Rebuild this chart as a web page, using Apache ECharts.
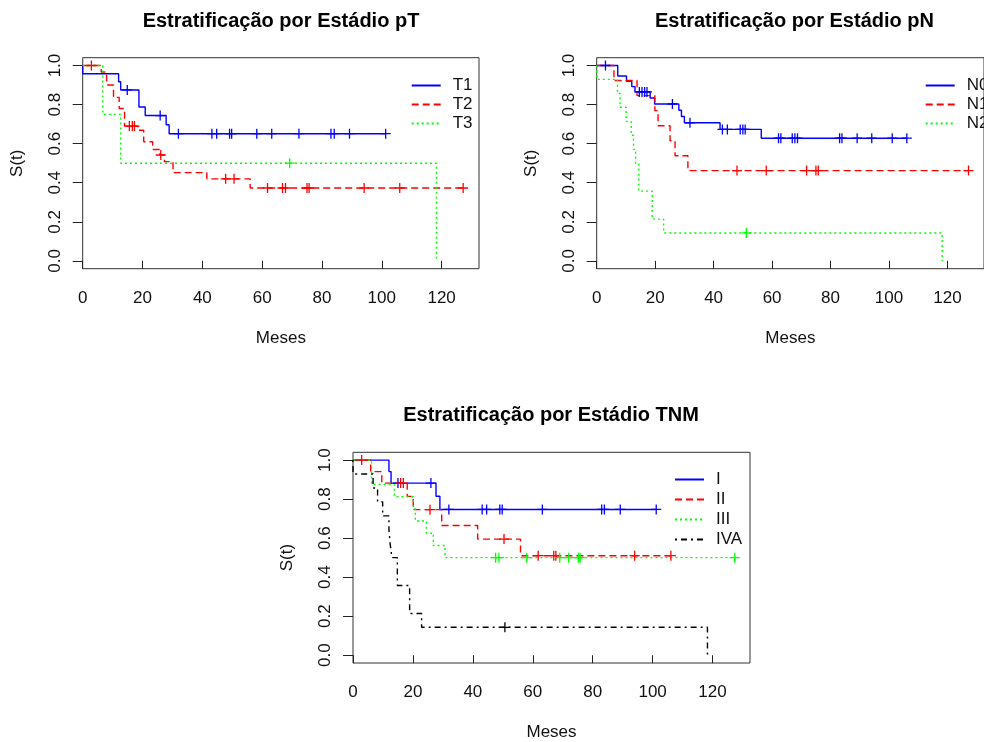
<!DOCTYPE html>
<html><head><meta charset="utf-8">
<script src="https://cdn.jsdelivr.net/npm/echarts@6/dist/echarts.min.js"></script>
<style>html,body{margin:0;padding:0;background:#fff}#c{width:984px;height:742px}</style>
</head><body><div id="c"></div>
<script>
// ---------- tick labels ----------
const xTicks = [0, 20, 40, 60, 80, 100, 120];
const yTicks = [0, 0.2, 0.4, 0.6, 0.8, 1.0];

// ---------- Plot 1: pT ----------
const t1Time = [0, 0, 12.0, 12.7, 18.8, 20.9, 27.9, 28.9, 101.3];
const t1Surv = [1, 0.958, 0.917, 0.875, 0.788, 0.744, 0.697, 0.651, 0.651];
const t1CensTime = [14.9, 25.9, 32.0, 43.2, 44.8, 49.1, 49.8, 58.2, 63.2, 72.3, 83.0, 84.1, 89.2, 101.3];
const t1CensSurv = [0.875, 0.744, 0.651, 0.651, 0.651, 0.651, 0.651, 0.651, 0.651, 0.651, 0.651, 0.651, 0.651, 0.651];

const t2Time = [0, 6.2, 8.0, 10.3, 12.2, 14.0, 18.5, 20.4, 23.4, 25.8, 27.3, 30.2, 41.5, 56.0, 127.2];
const t2Surv = [1, 0.967, 0.90, 0.837, 0.78, 0.69, 0.669, 0.61, 0.57, 0.542, 0.508, 0.452, 0.42, 0.373, 0.373];
const t2CensTime = [2.9, 15.6, 16.6, 17.3, 26.1, 47.8, 50.6, 61.8, 66.8, 67.8, 75.0, 75.7, 94.1, 106.0, 127.2];
const t2CensSurv = [1, 0.69, 0.69, 0.69, 0.542, 0.42, 0.42, 0.373, 0.373, 0.373, 0.373, 0.373, 0.373, 0.373, 0.373];

const t3Time = [0, 6.7, 12.7, 118.3];
const t3Surv = [1, 0.75, 0.5, 0];
const t3CensTime = [69.2];
const t3CensSurv = [0.5];

// ---------- Plot 2: pN ----------
const n0Time = [0, 7.2, 10.2, 12.0, 13.1, 18.3, 19.8, 28.1, 29.0, 30.0, 42.2, 56.3, 106.1];
const n0Surv = [1, 0.946, 0.919, 0.892, 0.865, 0.834, 0.803, 0.771, 0.739, 0.707, 0.673, 0.628, 0.628];
const n0CensTime = [3.0, 14.6, 15.5, 16.4, 17.2, 25.9, 31.9, 43.0, 44.7, 49.1, 50.0, 50.8, 62.2, 63.0, 66.9, 67.8, 68.7, 83.1, 83.9, 89.1, 94.1, 101.1, 106.1];
const n0CensSurv = [1, 0.865, 0.865, 0.865, 0.865, 0.803, 0.707, 0.673, 0.673, 0.673, 0.673, 0.673, 0.628, 0.628, 0.628, 0.628, 0.628, 0.628, 0.628, 0.628, 0.628, 0.628, 0.628];

const n1Time = [0, 5.9, 13.8, 19.9, 21.0, 25.1, 26.8, 31.2, 127.2];
const n1Surv = [1, 0.923, 0.846, 0.769, 0.692, 0.615, 0.538, 0.462, 0.462];
const n1CensTime = [48.0, 58.0, 71.8, 75.0, 75.8, 127.2];
const n1CensSurv = [0.462, 0.462, 0.462, 0.462, 0.462, 0.462];

const n2Time = [0, 0, 7.1, 8.0, 10.1, 11.8, 12.6, 13.3, 14.4, 19.0, 22.9, 118.2];
const n2Surv = [1, 0.929, 0.857, 0.786, 0.714, 0.643, 0.571, 0.5, 0.357, 0.214, 0.143, 0];
const n2CensTime = [51.2];
const n2CensSurv = [0.143];

// ---------- Plot 3: TNM ----------
const s1Time = [0, 12.0, 12.7, 27.7, 29.0, 101.2];
const s1Surv = [1, 0.941, 0.882, 0.815, 0.747, 0.747];
const s1CensTime = [15.0, 26.0, 32.0, 43.1, 44.6, 49.0, 49.8, 63.2, 83.0, 83.9, 89.2, 101.2];
const s1CensSurv = [0.882, 0.882, 0.747, 0.747, 0.747, 0.747, 0.747, 0.747, 0.747, 0.747, 0.747, 0.747];

const s2Time = [0, 5.9, 9.6, 18.1, 20.1, 29.6, 41.6, 55.9, 106.1];
const s2Surv = [1, 0.941, 0.882, 0.814, 0.746, 0.665, 0.595, 0.51, 0.51];
const s2CensTime = [2.9, 15.9, 16.8, 25.7, 50.4, 61.8, 67.0, 67.7, 94.0, 106.1];
const s2CensSurv = [1, 0.882, 0.882, 0.746, 0.595, 0.51, 0.51, 0.51, 0.51, 0.51];

const s3Time = [0, 6.2, 13.8, 20.1, 20.8, 24.5, 26.8, 30.7, 127.4];
const s3Surv = [1, 0.875, 0.8125, 0.75, 0.6875, 0.625, 0.5625, 0.5, 0.5];
const s3CensTime = [47.6, 48.7, 58.0, 69.0, 72.0, 75.2, 75.8, 127.4];
const s3CensSurv = [0.5, 0.5, 0.5, 0.5, 0.5, 0.5, 0.5, 0.5];

const s4Time = [0, 0, 6.7, 8.2, 9.9, 12.0, 12.4, 13.0, 14.8, 18.9, 22.9, 118.3];
const s4Surv = [1, 0.929, 0.857, 0.786, 0.714, 0.643, 0.571, 0.5, 0.357, 0.214, 0.143, 0];
const s4CensTime = [50.7];
const s4CensSurv = [0.143];

const titles = ['Estratificação por Estádio pT', 'Estratificação por Estádio pN', 'Estratificação por Estádio TNM'];
const xName = 'Meses';
const yName = 'S(t)';

// ---------- styling / layout ----------
const FONT = '"Liberation Sans", Arial, sans-serif';
const BLUE = '#0000FF', RED = '#FF0000', GREEN = '#00FF00', BLACK = '#000000';
const DASH = [7, 4], DOT = [2, 3], DOTDASH = [2, 4, 6, 4];
const PLUS = 'path://M0,4.35H10V5.65H0Z M4.35,0H5.65V10H4.35Z';

const grids = [
  { left: 82.7, top: 57.7, width: 396.3, height: 211 },
  { left: 596.7, top: 57.7, width: 396, height: 211 },
  { left: 353, top: 452.3, width: 397, height: 211.7 }
];

function zip(a, b) { return a.map((v, i) => [v, b[i]]); }

function km(name, times, surv, gi, color, dash) {
  return {
    type: 'line', name, xAxisIndex: gi, yAxisIndex: gi, step: 'end', symbol: 'none',
    data: zip(times, surv), animation: false, clip: true,
    lineStyle: { color, width: 1.4, type: dash }, itemStyle: { color }, z: 3
  };
}
function cens(name, times, surv, gi, color) {
  return {
    type: 'scatter', name: name + ' cens', xAxisIndex: gi, yAxisIndex: gi,
    symbol: PLUS, symbolSize: 10, data: zip(times, surv), animation: false,
    itemStyle: { color, opacity: 1 }, z: 4, silent: true
  };
}

const xAxes = grids.map((g, i) => ({
  type: 'value', gridIndex: i, min: 0, max: 132.5,
  axisLine: { show: false }, splitLine: { show: false },
  axisTick: { show: true, length: 8, customValues: xTicks, lineStyle: { color: '#222', width: 1 } },
  axisLabel: { customValues: xTicks, margin: 21, fontSize: 17, color: '#111', fontFamily: FONT },
  name: xName, nameLocation: 'middle', nameGap: 61,
  nameTextStyle: { fontSize: 17, color: '#111', fontFamily: FONT }
}));
const yAxes = grids.map((g, i) => ({
  type: 'value', gridIndex: i, min: -0.04, max: 1.04,
  axisLine: { show: false }, splitLine: { show: false },
  axisTick: { show: true, length: 10, customValues: yTicks, lineStyle: { color: '#222', width: 1 } },
  axisLabel: { customValues: yTicks, margin: 19, rotate: 90, fontSize: 17, color: '#111', fontFamily: FONT,
    formatter: v => v.toFixed(1) },
  name: yName, nameLocation: 'middle', nameGap: 57, nameRotate: 90,
  nameTextStyle: { fontSize: 17, color: '#111', fontFamily: FONT }
}));

const series = [
  km('T1', t1Time, t1Surv, 0, BLUE, 'solid'), km('T2', t2Time, t2Surv, 0, RED, DASH), km('T3', t3Time, t3Surv, 0, GREEN, DOT),
  cens('T1', t1CensTime, t1CensSurv, 0, BLUE), cens('T2', t2CensTime, t2CensSurv, 0, RED), cens('T3', t3CensTime, t3CensSurv, 0, GREEN),
  km('N0', n0Time, n0Surv, 1, BLUE, 'solid'), km('N1', n1Time, n1Surv, 1, RED, DASH), km('N2', n2Time, n2Surv, 1, GREEN, DOT),
  cens('N0', n0CensTime, n0CensSurv, 1, BLUE), cens('N1', n1CensTime, n1CensSurv, 1, RED), cens('N2', n2CensTime, n2CensSurv, 1, GREEN),
  km('I', s1Time, s1Surv, 2, BLUE, 'solid'), km('II', s2Time, s2Surv, 2, RED, DASH), km('III', s3Time, s3Surv, 2, GREEN, DOT), km('IVA', s4Time, s4Surv, 2, BLACK, DOTDASH),
  cens('I', s1CensTime, s1CensSurv, 2, BLUE), cens('II', s2CensTime, s2CensSurv, 2, RED), cens('III', s3CensTime, s3CensSurv, 2, GREEN), cens('IVA', s4CensTime, s4CensSurv, 2, BLACK)
];

function legend(names, left, top, gap) {
  return {
    data: names, orient: 'vertical', left, top, padding: 0, itemGap: gap,
    itemWidth: 29, itemHeight: 10, selectedMode: false,
    itemStyle: { opacity: 0, borderWidth: 0 },
    textStyle: { fontSize: 17, color: '#111', fontFamily: FONT, padding: [0, 0, 0, 7] }
  };
}

const titleCenters = [[281, 11], [794.5, 11], [551, 405]];

const option = {
  backgroundColor: '#fff',
  animation: false,
  title: titles.map((t, i) => ({
    text: t, left: titleCenters[i][0], top: titleCenters[i][1], textAlign: 'center', padding: 0,
    textStyle: { fontSize: 20, fontWeight: 'bold', color: '#000', fontFamily: FONT }
  })),
  grid: grids.map(g => Object.assign({ show: true, borderColor: '#333', borderWidth: 1, backgroundColor: 'transparent', containLabel: false }, g)),
  xAxis: xAxes,
  yAxis: yAxes,
  legend: [
    legend(['T1', 'T2', 'T3'], 410.7, 77, 2),
    legend(['N0', 'N1', 'N2'], 924.7, 77, 2),
    legend(['I', 'II', 'III', 'IVA'], 674, 471, 3)
  ],
  series
};

const chart = echarts.init(document.getElementById('c'), null, { renderer: 'canvas' });
chart.setOption(option);
</script></body></html>
